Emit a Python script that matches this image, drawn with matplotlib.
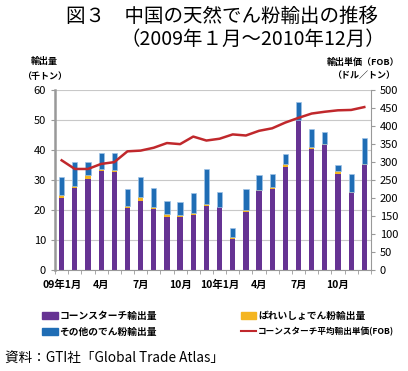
import matplotlib.pyplot as plt
import numpy as np
from matplotlib.patches import Patch
from matplotlib.lines import Line2D

plt.rcParams['font.family'] = ['Noto Sans CJK JP', 'DejaVu Sans']

months = list(range(24))
tick_pos = [0, 3, 6, 9, 12, 15, 18, 21]
tick_labels = ["09年1月", "4月", "7月", "10月", "10年1月", "4月", "7月", "10月"]

# 千トン
corn = [24.2, 27.3, 30.3, 33.0, 32.7, 20.7, 23.1, 20.4, 17.7, 17.8, 18.3, 21.4,
        20.9, 10.4, 19.4, 26.4, 27.0, 34.4, 50.1, 40.4, 41.8, 32.0, 25.6, 35.1]
potato = [0.8, 0.7, 1.3, 0.7, 0.7, 0.6, 1.2, 0.6, 0.9, 0.5, 0.6, 0.6,
          0.3, 0.5, 0.7, 0.3, 0.7, 0.9, 0.1, 0.6, 0.2, 1.0, 0.4, 0.3]
other = [5.9, 8.2, 4.3, 5.2, 5.5, 5.6, 6.6, 6.4, 4.4, 4.3, 6.7, 11.7,
         4.8, 3.0, 6.9, 5.0, 4.2, 3.4, 5.8, 5.9, 4.2, 2.2, 5.9, 8.8]
# ドル/トン
price = [305, 281, 281, 295, 300, 330, 332, 340, 353, 350, 371, 360,
         365, 377, 374, 387, 394, 410, 423, 435, 440, 444, 445, 453]

c_corn = "#663393"
c_potato = "#f4b521"
c_other = "#1f6db5"
c_line = "#c0282c"

fig = plt.figure(figsize=(4.08, 3.71), dpi=100)
ax = fig.add_axes([0.135, 0.272, 0.774, 0.485])

corn_a = np.array(corn)
potato_a = np.array(potato)
ax.bar(months, corn, width=0.4, color=c_corn, zorder=2)
ax.bar(months, potato, width=0.4, bottom=corn_a, color=c_potato, zorder=2)
ax.bar(months, other, width=0.4, bottom=corn_a + potato_a, color=c_other,
       edgecolor="#9ec3e6", linewidth=0.5, zorder=2)

ax.set_xlim(-0.5, 23.5)
ax.set_ylim(0, 60)
ax.set_yticks(range(0, 61, 10))
ax.yaxis.grid(True, color="#c8c8c8", linewidth=0.8)
ax.set_axisbelow(True)
ax.set_xticks(tick_pos)
ax.set_xticklabels(tick_labels, fontweight="bold", fontsize=7.5)
ax.set_xticks(np.arange(-0.5, 24, 1), minor=True)
ax.tick_params(axis="x", which="major", length=0, pad=7)
ax.tick_params(axis="x", which="minor", length=3, color="#999999")
ax.tick_params(axis="y", labelsize=8, length=3, color="#999999")
for s in ["top", "right"]:
    ax.spines[s].set_visible(False)
ax.spines["left"].set_color("#999999")
ax.spines["left"].set_linewidth(1.8)
ax.spines["bottom"].set_color("#999999")

ax2 = ax.twinx()
ax2.plot(months, price, color=c_line, linewidth=1.8, zorder=3)
ax2.set_ylim(0, 500)
ax2.set_yticks(range(0, 501, 50))
ax2.tick_params(axis="y", labelsize=8, length=3, color="#999999")
for s in ["top", "left", "bottom"]:
    ax2.spines[s].set_visible(False)
ax2.spines["right"].set_color("#999999")

fig.text(0.545, 0.955, "図３　中国の天然でん粉輸出の推移", ha="center", va="center", fontsize=14)
fig.text(0.62, 0.893, "（2009年１月～2010年12月）", ha="center", va="center", fontsize=14)

fig.text(0.108, 0.833, "輸出量", ha="center", va="center", fontsize=6.5, fontweight="bold")
fig.text(0.108, 0.795, "（千トン）", ha="center", va="center", fontsize=6.5, fontweight="bold")
fig.text(0.89, 0.833, "輸出単価（FOB）", ha="center", va="center", fontsize=6.5, fontweight="bold")
fig.text(0.89, 0.795, "（ドル／トン）", ha="center", va="center", fontsize=6.5, fontweight="bold")

handles = [Patch(color=c_corn), Patch(color=c_other),
           Patch(color=c_potato), Line2D([], [], color=c_line, linewidth=1.5)]
labels = ["コーンスターチ輸出量", "その他のでん粉輸出量",
          "ばれいしょでん粉輸出量", "コーンスターチ平均輸出単価(FOB)"]
leg = fig.legend(handles, labels, ncol=2, loc="upper left", bbox_to_anchor=(0.103, 0.162),
                 frameon=False, prop={"size": 7, "weight": "bold"}, handlelength=1.6,
                 handleheight=0.8, handletextpad=0.2, columnspacing=8.6,
                 labelspacing=0.6, borderaxespad=0, borderpad=0)
leg.get_texts()[3].set_fontsize(6.2)

fig.text(0.012, 0.035, "資料：GTI社「Global Trade Atlas」", ha="left", va="center", fontsize=9.8)

fig.savefig("out.png", dpi=100)
